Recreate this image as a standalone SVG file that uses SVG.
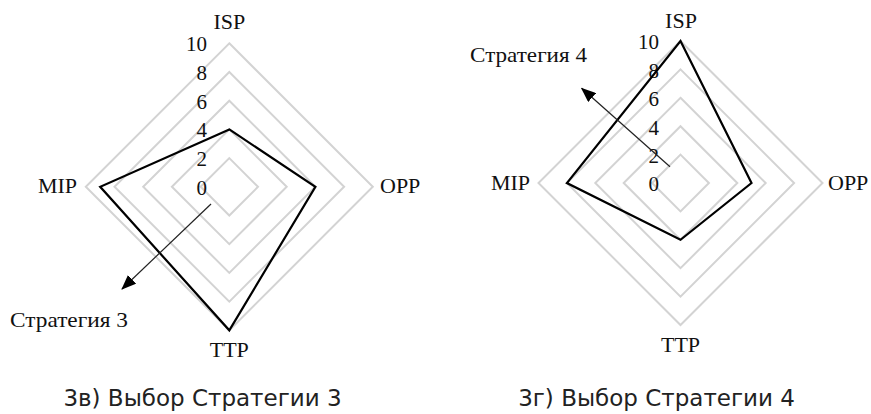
<svg xmlns="http://www.w3.org/2000/svg" width="871" height="414" viewBox="0 0 871 414">
<defs>
<style>
.ring{fill:none;stroke:#d3d3d3;stroke-width:2}
.data{fill:none;stroke:#000;stroke-width:2.2;stroke-linejoin:miter}
.lbl{font-family:"Liberation Serif","Times New Roman",serif;font-size:22px;fill:#111}
.tick{font-family:"Liberation Serif","Times New Roman",serif;font-size:21px;fill:#111;text-anchor:end}
.cap{font-family:"DejaVu Sans",Tahoma,Verdana,sans-serif;font-size:23px;fill:#222;text-anchor:middle}
.arr{stroke:#222;stroke-width:1.2;fill:none;marker-end:url(#ah)}
</style>
<marker id="ah" viewBox="0 0 15 12" refX="14" refY="6" markerWidth="15" markerHeight="12" markerUnits="userSpaceOnUse" orient="auto">
<path d="M0,0 L15,6 L0,12 Z" fill="#000"/>
</marker>
</defs>
<rect width="871" height="414" fill="#fff"/>

<g id="chart-left">
<g id="left-grid">
<polygon class="ring" points="229.3,158.1 258,186.8 229.3,215.5 200.6,186.8"/>
<polygon class="ring" points="229.3,129.4 286.7,186.8 229.3,244.2 171.9,186.8"/>
<polygon class="ring" points="229.3,100.7 315.4,186.8 229.3,272.9 143.2,186.8"/>
<polygon class="ring" points="229.3,72 344.1,186.8 229.3,301.6 114.5,186.8"/>
<polygon class="ring" points="229.3,43.3 372.8,186.8 229.3,330.3 85.8,186.8"/>
</g>
<g id="left-ticks">
<text class="tick" x="207" y="195">0</text>
<text class="tick" x="207" y="166">2</text>
<text class="tick" x="207" y="137">4</text>
<text class="tick" x="207" y="109">6</text>
<text class="tick" x="207" y="80">8</text>
<text class="tick" x="207" y="51">10</text>
</g>
<g id="left-series">
<polygon class="data" points="229.3,129.4 315.4,186.8 229.3,330.3 100.2,186.8"/>
</g>
<g id="left-axis-labels">
<text class="lbl" x="229.3" y="29" text-anchor="middle">ISP</text>
<text class="lbl" x="380" y="193">OPP</text>
<text class="lbl" x="229.3" y="357" text-anchor="middle">TTP</text>
<text class="lbl" x="77" y="193" text-anchor="end">MIP</text>
</g>
<g id="left-callout">
<text class="lbl" x="10" y="327" textLength="118" lengthAdjust="spacingAndGlyphs">Стратегия 3</text>
</g>
</g>

<g id="chart-right">
<g id="right-grid">
<polygon class="ring" points="680.5,154.6 708.9,183 680.5,211.4 652.1,183"/>
<polygon class="ring" points="680.5,126.2 737.3,183 680.5,239.8 623.7,183"/>
<polygon class="ring" points="680.5,97.8 765.7,183 680.5,268.2 595.3,183"/>
<polygon class="ring" points="680.5,69.4 794.1,183 680.5,296.6 566.9,183"/>
<polygon class="ring" points="680.5,41 822.5,183 680.5,325 538.5,183"/>
</g>
<g id="right-ticks">
<text class="tick" x="659" y="191">0</text>
<text class="tick" x="659" y="163">2</text>
<text class="tick" x="659" y="135">4</text>
<text class="tick" x="659" y="106">6</text>
<text class="tick" x="659" y="78">8</text>
<text class="tick" x="659" y="49">10</text>
</g>
<g id="right-series">
<polygon class="data" points="680.5,41 751.5,183 680.5,239.8 566.9,183"/>
</g>
<g id="right-axis-labels">
<text class="lbl" x="681" y="28" text-anchor="middle">ISP</text>
<text class="lbl" x="828" y="190">OPP</text>
<text class="lbl" x="680.5" y="352" text-anchor="middle">TTP</text>
<text class="lbl" x="530" y="190" text-anchor="end">MIP</text>
</g>
<g id="right-callout">
<text class="lbl" x="470" y="62" textLength="117" lengthAdjust="spacingAndGlyphs">Стратегия 4</text>
</g>
</g>

<g id="connectors">
<line class="arr" x1="211" y1="204" x2="122" y2="289"/>
<line class="arr" x1="670" y1="166.7" x2="581.7" y2="88.3"/>
</g>

<g id="captions">
<text class="cap" x="202.5" y="406">3в) Выбор Стратегии 3</text>
<text class="cap" x="656.5" y="406">3г) Выбор Стратегии 4</text>
</g>
</svg>
